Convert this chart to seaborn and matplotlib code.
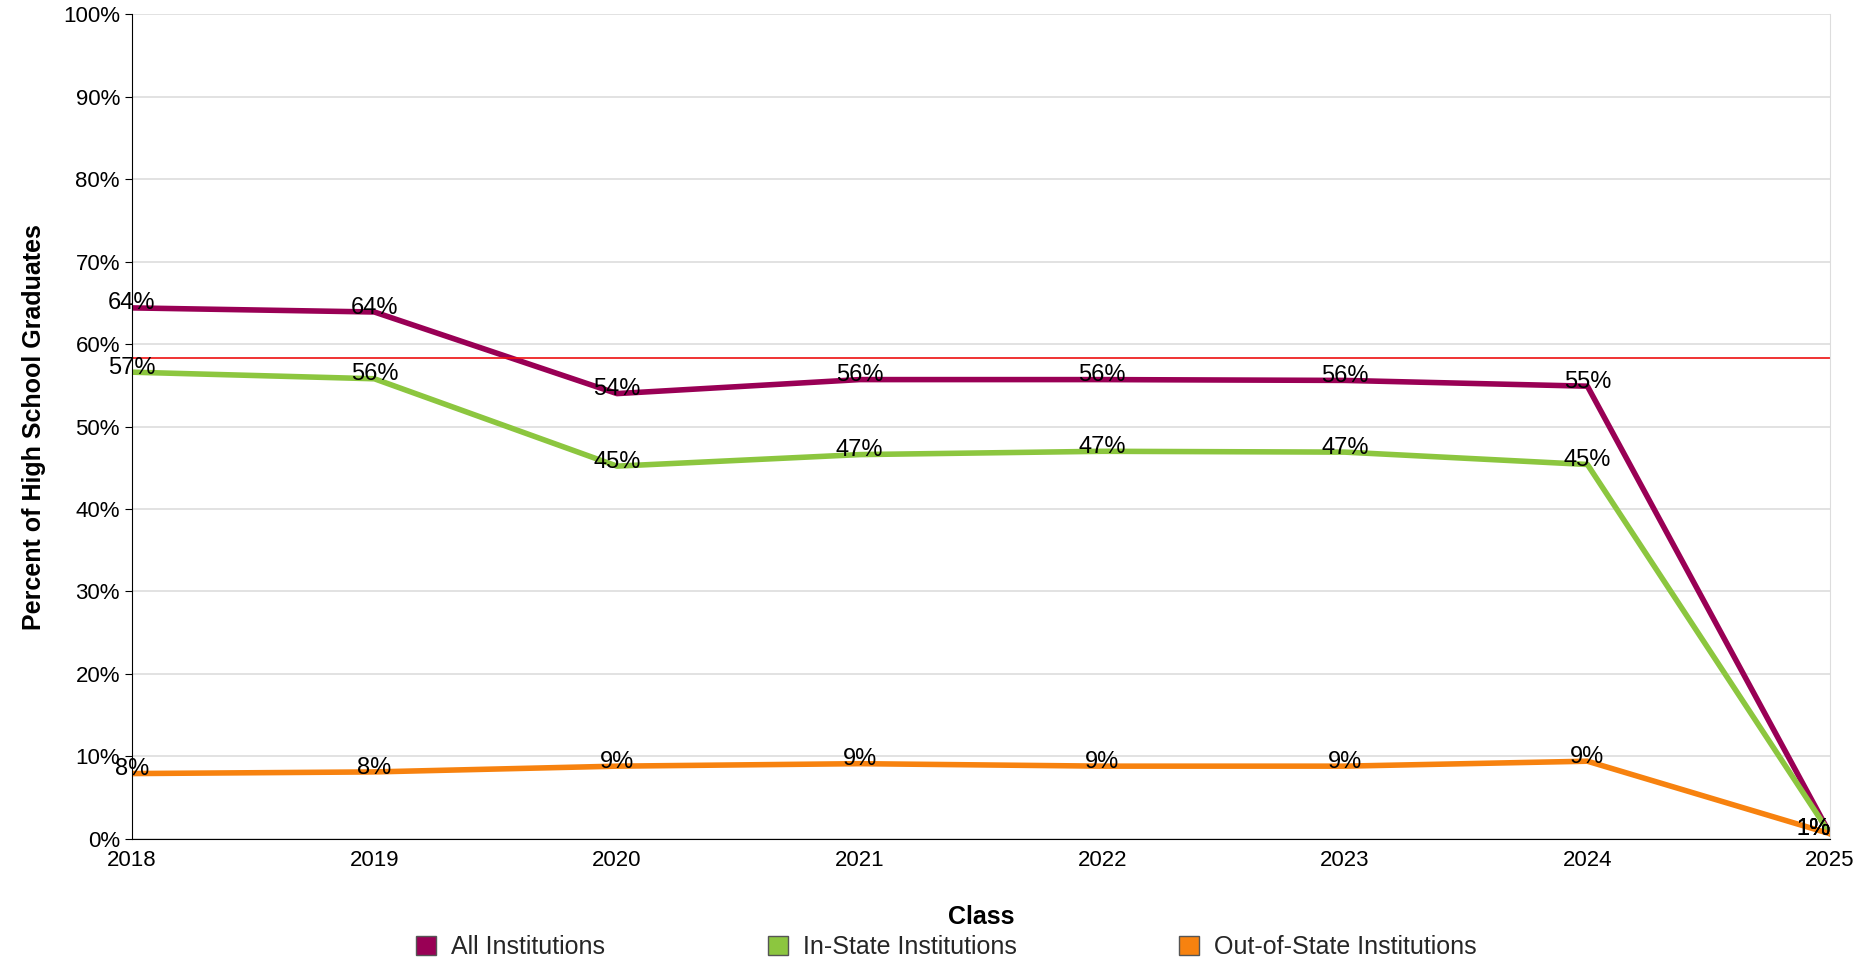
import pandas as pd
import seaborn as sns
import matplotlib.pyplot as plt
from matplotlib.patches import Patch
from matplotlib.ticker import FuncFormatter

years = [2018, 2019, 2020, 2021, 2022, 2023, 2024, 2025]
all_inst = [64.4, 63.9, 54.0, 55.7, 55.7, 55.6, 54.9, 0.6]
in_state = [56.6, 55.8, 45.2, 46.6, 47.0, 46.9, 45.4, 0.6]
out_state = [7.9, 8.1, 8.8, 9.1, 8.8, 8.8, 9.4, 0.6]
reference_line = 58.3
series_names = ["All Institutions", "In-State Institutions", "Out-of-State Institutions"]
colors = ["#990055", "#8cc63f", "#f7820f"]

df = pd.DataFrame({"Class": years * 3,
                   "value": all_inst + in_state + out_state,
                   "series": [s for s in series_names for _ in years]})

sns.set_style("white")
plt.rcParams["font.family"] = ["Liberation Sans", "DejaVu Sans"]
fig = plt.figure(figsize=(18.56, 9.64), dpi=100)
ax = fig.add_axes([0.071, 0.13, 0.915, 0.855])

sns.lineplot(df, x="Class", y="value", hue="series", palette=colors,
             linewidth=4, legend=False, ax=ax)
ax.axhline(reference_line, color="#ee1111", linewidth=1.2)

for vals in (all_inst, in_state, out_state):
    for x, v in zip(years, vals):
        ha = "right" if x == years[-1] else "center"
        ax.text(x, v - 0.8, f"{v:.0f}%", ha=ha, va="bottom", fontsize=17, color="black")

ax.set_xlim(2018, 2025)
ax.set_ylim(0, 100)
ax.set_yticks(range(0, 101, 10))
ax.yaxis.set_major_formatter(FuncFormatter(lambda v, p: f"{v:.0f}%"))
ax.set_xticks(years)
ax.tick_params(labelsize=16, length=5, color="black", labelcolor="black", direction="out")
ax.tick_params(axis="y", left=True)
ax.tick_params(axis="x", bottom=False)
ax.grid(axis="y", color="#dddddd", linewidth=1.2)
ax.grid(axis="x", visible=False)
ax.spines["top"].set_visible(False)
ax.spines["right"].set_color("#dddddd")
ax.spines["left"].set_color("black")
ax.spines["bottom"].set_color("black")
ax.set_xlabel("Class", fontsize=18, fontweight="bold", labelpad=24, color="black")
ax.set_ylabel("Percent of High School Graduates", fontsize=18, fontweight="bold", labelpad=12, color="black")

handles = [Patch(facecolor=c, edgecolor="#555555", label=n) for c, n in zip(colors, series_names)]
fig.legend(handles=handles, loc="lower center", ncol=3, frameon=False, fontsize=18,
           bbox_to_anchor=(0.51, -0.018), columnspacing=6.5, handlelength=0.8, handleheight=0.8,
           handletextpad=0.6)

fig.savefig("out.png")
